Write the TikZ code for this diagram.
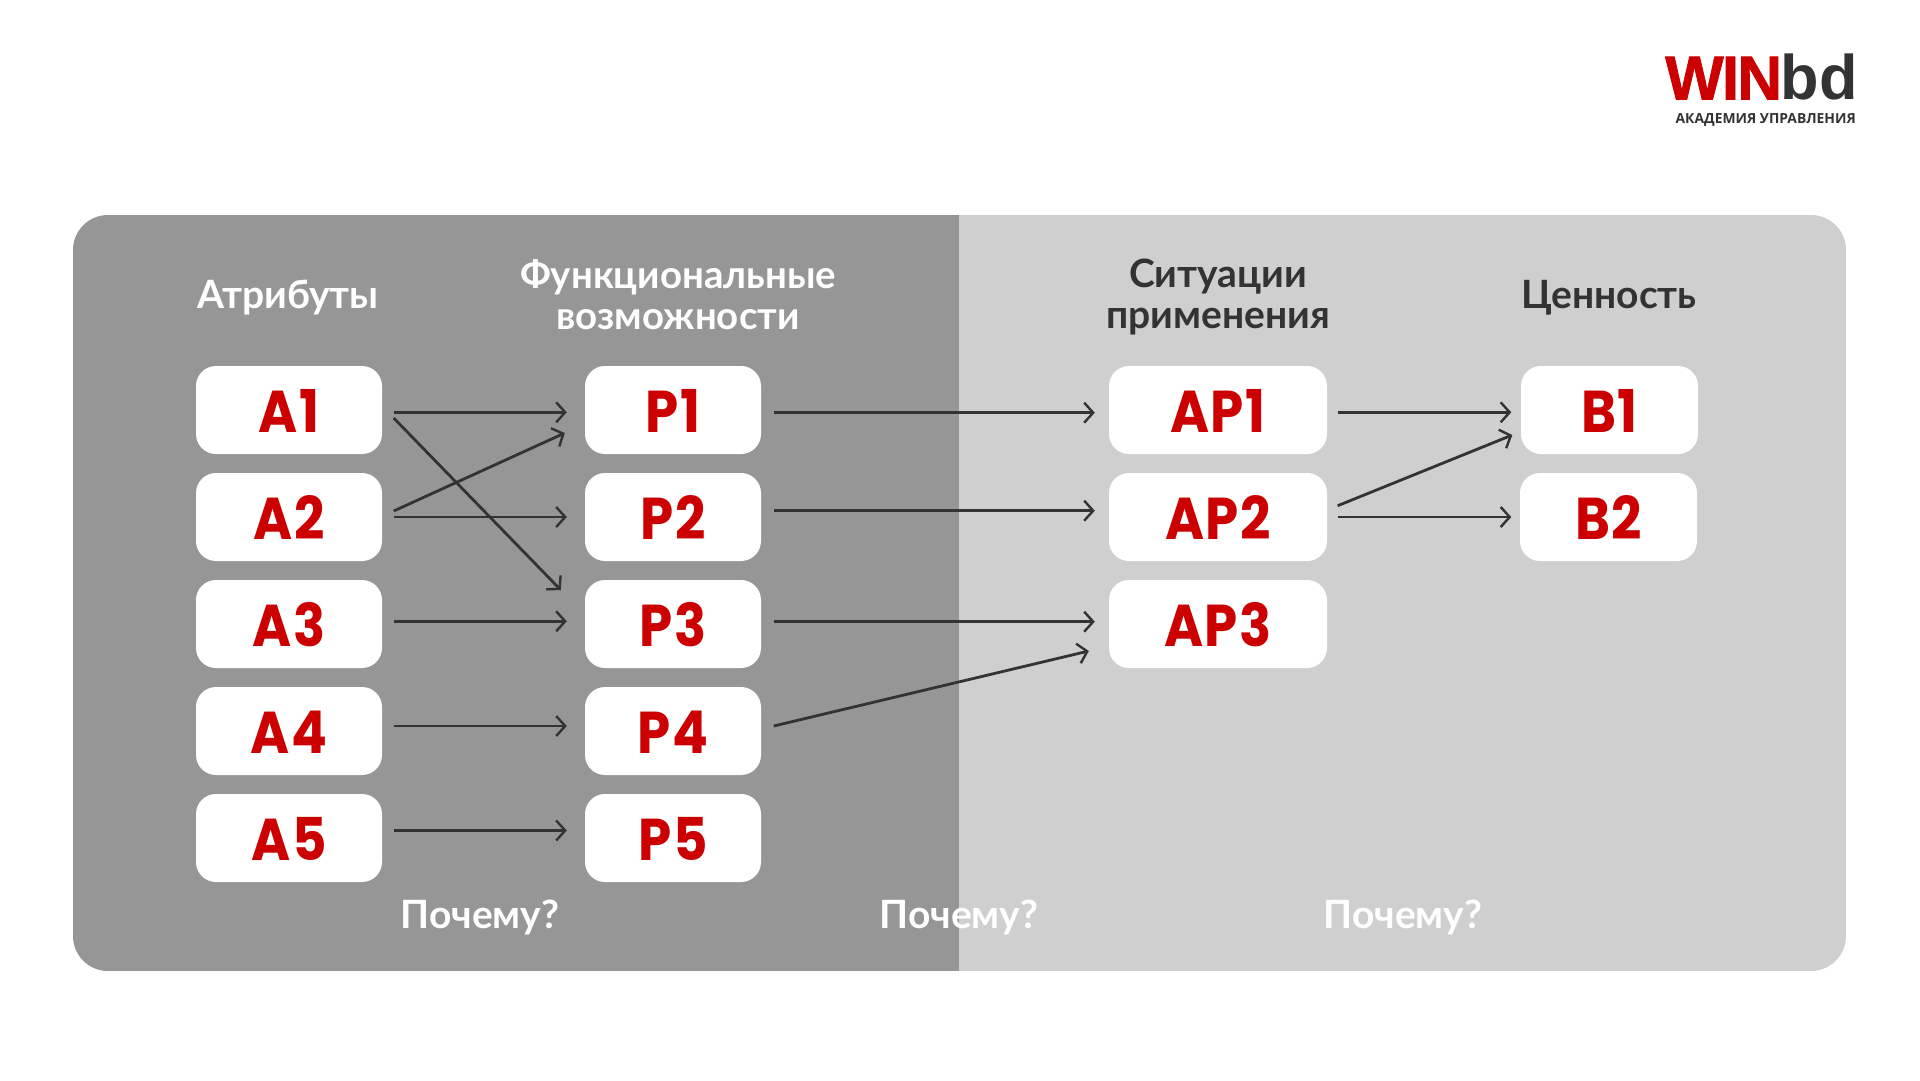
\documentclass[tikz,border=0pt]{standalone}
\usepackage{fontspec}
\usetikzlibrary{arrows.meta}
\setmainfont{Lato}
\newfontfamily\labfont[FakeStretch=0.9,LetterSpace=2.5]{Poppins}
\newfontfamily\logofont[LetterSpace=-3,FakeBold=1.2]{Liberation Sans}
\newfontfamily\logobfont{Liberation Sans}
\newfontfamily\headfont{Lato}
\newfontfamily\smallfont{Open Sans}
\definecolor{wred}{HTML}{CC0000}
\definecolor{wdark}{HTML}{333333}
\definecolor{pdark}{HTML}{969696}
\definecolor{plight}{HTML}{CFCFCF}
\tikzset{
 lab/.style={fill=white,rounded corners=20pt,minimum height=88pt,inner sep=0pt,text=wred,text height=45pt,text depth=0pt,font=\labfont\bfseries\fontsize{59}{59}\selectfont},
 abox/.style={lab,minimum width=186pt},
 pbox/.style={lab,minimum width=176pt},
 apbox/.style={lab,minimum width=218pt},
 bbox/.style={lab,minimum width=177pt},
 arr/.style={draw=wdark,line width=2.8pt,-{Straight Barb[length=9pt,width=20pt,line width=2.4pt]}},
 headw/.style={text=white,align=center,font=\headfont\bfseries\fontsize{39}{41.5}\selectfont},
 headd/.style={headw,text=wdark},
 why/.style={headw,text=white},
}
\begin{document}
\begin{tikzpicture}[x=1pt,y=-1pt]
\useasboundingbox[fill=white] (0,0) rectangle (1920,1080);
\begin{scope}
\clip[rounded corners=35pt] (73,215) rectangle (1846,971);
\fill[pdark] (73,215) rectangle (959,971);
\fill[plight] (959,215) rectangle (1846,971);
\end{scope}
% headings
\node[headw] (h1) at (288,297.5) {Атрибуты};
\node[headw,font=\headfont\bfseries\fontsize{38.4}{41.5}\selectfont] (h2) at (678,294.5) {Функциональные\\возможности};
\node[headd] (h3) at (1218,297) {Ситуации\\применения};
\node[headd] (h4) at (1609,297.5) {Ценность};
% boxes
\node[abox] (A1) at (289,410) {A1};
\node[abox] (A2) at (289,517) {A2};
\node[abox] (A3) at (289,624) {A3};
\node[abox] (A4) at (289,731) {A4};
\node[abox] (A5) at (289,838) {A5};
\node[pbox] (P1) at (673,410) {P1};
\node[pbox] (P2) at (673,517) {P2};
\node[pbox] (P3) at (673,624) {P3};
\node[pbox] (P4) at (673,731) {P4};
\node[pbox] (P5) at (673,838) {P5};
\node[apbox] (AP1) at (1218,410) {AP1};
\node[apbox] (AP2) at (1218,517) {AP2};
\node[apbox] (AP3) at (1218,624) {AP3};
\node[bbox] (B1) at (1609.5,410) {B1};
\node[bbox] (B2) at (1608.5,517) {B2};
% connectors
\draw[arr] ([xshift=11.5pt,yshift=-2.3pt]A1.east) -- ([xshift=-18pt,yshift=-2.3pt]P1.west);
\draw[arr] ([xshift=11.5pt,yshift=-8pt]A1.east) -- ([xshift=-24pt,yshift=34pt]P3.west);
\draw[arr] ([xshift=11.5pt,yshift=6pt]A2.east) -- ([xshift=-20pt,yshift=-23pt]P1.west);
\draw[arr] ([xshift=11.5pt,yshift=0pt]A2.east) -- ([xshift=-18pt,yshift=0pt]P2.west);
\draw[arr] ([xshift=11.5pt,yshift=2.7pt]A3.east) -- ([xshift=-18pt,yshift=2.7pt]P3.west);
\draw[arr] ([xshift=11.5pt,yshift=5pt]A4.east) -- ([xshift=-18pt,yshift=5pt]P4.west);
\draw[arr] ([xshift=11.5pt,yshift=7.5pt]A5.east) -- ([xshift=-18pt,yshift=7.5pt]P5.west);
\draw[arr] ([xshift=12.5pt,yshift=-2.7pt]P1.east) -- ([xshift=-14pt,yshift=-2.7pt]AP1.west);
\draw[arr] ([xshift=12.5pt,yshift=6.3pt]P2.east) -- ([xshift=-14pt,yshift=6.3pt]AP2.west);
\draw[arr] ([xshift=12.5pt,yshift=2.3pt]P3.east) -- ([xshift=-14pt,yshift=2.3pt]AP3.west);
\draw[arr] ([xshift=12.5pt,yshift=5pt]P4.east) -- ([xshift=-20pt,yshift=-27pt]AP3.west);
\draw[arr] ([xshift=10.5pt,yshift=-2.3pt]AP1.east) -- ([xshift=-9.5pt,yshift=-2.3pt]B1.west);
\draw[arr] ([xshift=10.5pt,yshift=11.3pt]AP2.east) -- ([xshift=-8.5pt,yshift=-25pt]B1.west);
\draw[arr] ([xshift=10.5pt,yshift=0pt]AP2.east) -- ([xshift=-8.5pt,yshift=0pt]B2.west);
% why
\node[why] (w1) at (480,917.5) {Почему?};
\node[why] (w2) at (959,917.5) {Почему?};
\node[why] (w3) at (1403,917.5) {Почему?};
% logo
\node[anchor=base west,inner sep=0pt,text=wred,font=\logofont\bfseries\fontsize{62}{62}\selectfont] (win) at (1665,99.5) {WIN};
\node[anchor=base east,inner sep=0pt,text=wdark,font=\logobfont\bfseries\fontsize{63}{63}\selectfont] (bd) at (1858,99.5) {bd};
\node[anchor=base east,inner sep=0pt,text=wdark,font=\smallfont\bfseries\fontsize{13.9}{14}\selectfont] (ac) at (1856,123) {АКАДЕМИЯ УПРАВЛЕНИЯ};
\end{tikzpicture}
\end{document}
